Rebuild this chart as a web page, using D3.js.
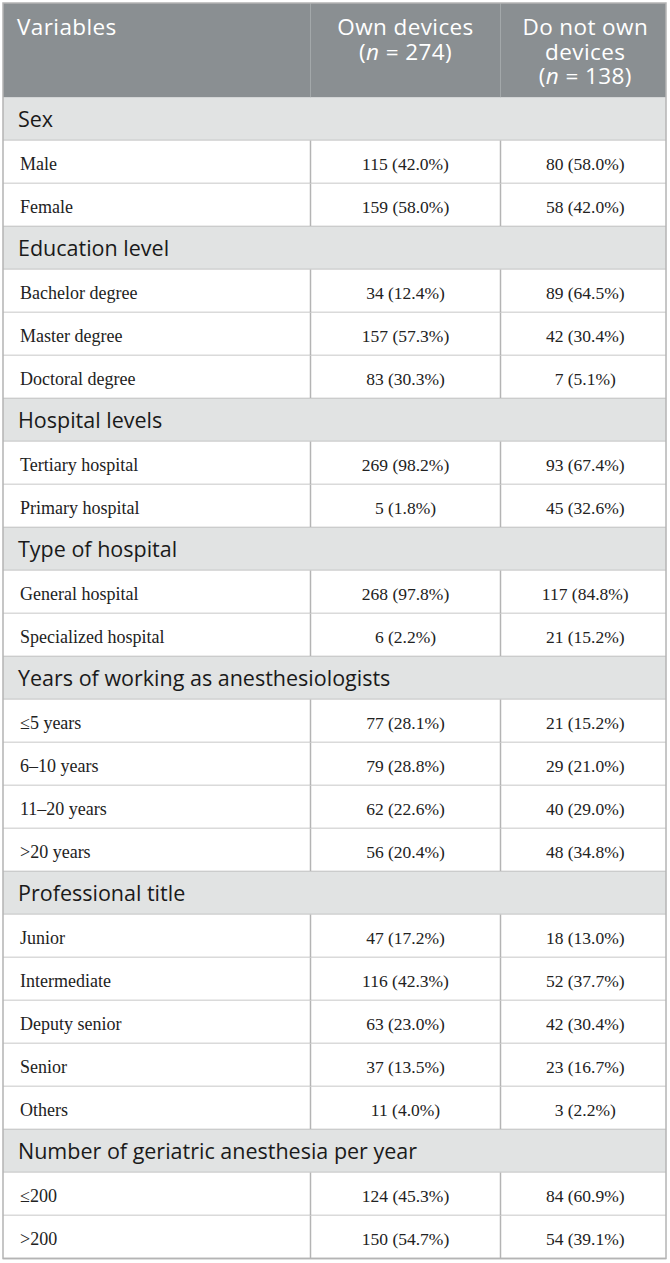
<!DOCTYPE html>
<html>
<head>
<meta charset="utf-8">
<script src="https://cdn.jsdelivr.net/npm/d3@7"></script>
<style>
  body { margin: 0; background: #fff; }
</style>
</head>
<body>
<script>
const WIDTH = 670;
const HEIGHT = 1263;

// table data
var GROUPS = ["Sex", "Education level", "Hospital levels", "Type of hospital",
  "Years of working as anesthesiologists", "Professional title",
  "Number of geriatric anesthesia per year"];

var LABELS = [
  ["Male", "Female"],
  ["Bachelor degree", "Master degree", "Doctoral degree"],
  ["Tertiary hospital", "Primary hospital"],
  ["General hospital", "Specialized hospital"],
  ["\u22645 years", "6\u201310 years", "11\u201320 years", ">20 years"],
  ["Junior", "Intermediate", "Deputy senior", "Senior", "Others"],
  ["\u2264200", ">200"]
];

var OWN = [[115, 159], [34, 157, 83], [269, 5], [268, 6], [77, 79, 62, 56], [47, 116, 63, 37, 11], [124, 150]];
var OWN_PCT = [["42.0", "58.0"], ["12.4", "57.3", "30.3"], ["98.2", "1.8"], ["97.8", "2.2"],
  ["28.1", "28.8", "22.6", "20.4"], ["17.2", "42.3", "23.0", "13.5", "4.0"], ["45.3", "54.7"]];

var NOT_OWN = [[80, 58], [89, 42, 7], [93, 45], [117, 21], [21, 29, 40, 48], [18, 52, 42, 23, 3], [84, 54]];
var NOT_OWN_PCT = [["58.0", "42.0"], ["64.5", "30.4", "5.1"], ["67.4", "32.6"], ["84.8", "15.2"],
  ["15.2", "21.0", "29.0", "34.8"], ["13.0", "37.7", "30.4", "16.7", "2.2"], ["60.9", "39.1"]];

var N_OWN = 274;
var N_NOT = 138;

// flatten into rows
var ROWS = [];
GROUPS.forEach(function (g, gi) {
  ROWS.push({ type: "group", label: g });
  LABELS[gi].forEach(function (l, li) {
    ROWS.push({
      type: "data", label: l,
      own: OWN[gi][li] + " (" + OWN_PCT[gi][li] + "%)",
      not: NOT_OWN[gi][li] + " (" + NOT_OWN_PCT[gi][li] + "%)"
    });
  });
});

var LEFT = 3, RIGHT = 666, COL1 = 310.5, COL2 = 500.5;
var HEAD_TOP = 3, HEAD_BOTTOM = 97.5, ROW_H = 43;

var yScale = d3.scaleBand()
  .domain(d3.range(ROWS.length))
  .range([HEAD_BOTTOM, HEAD_BOTTOM + ROWS.length * ROW_H]);

var xCenter = d3.scaleOrdinal()
  .domain(["own", "not"])
  .range([(COL1 + COL2) / 2, (COL2 + RIGHT) / 2 + 2]);

var svg = d3.select("body").append("svg")
  .attr("width", WIDTH)
  .attr("height", HEIGHT);

var SANS = "'Open Sans', 'Noto Sans', sans-serif";
var SERIF = "'Liberation Serif', 'DejaVu Serif', serif";

// header
svg.append("rect")
  .attr("x", LEFT).attr("y", HEAD_TOP)
  .attr("width", RIGHT - LEFT).attr("height", HEAD_BOTTOM - HEAD_TOP)
  .attr("fill", "#8a8f92");

[COL1, COL2].forEach(function (x) {
  svg.append("line")
    .attr("x1", x).attr("x2", x)
    .attr("y1", HEAD_TOP).attr("y2", HEAD_BOTTOM)
    .attr("stroke", "#a3a8aa").attr("stroke-width", 1);
});

var head = svg.append("g")
  .attr("font-family", SANS)
  .attr("font-size", "22.5px")
  .attr("letter-spacing", "0.4px")
  .attr("fill", "#fff");

head.append("text").attr("x", 17).attr("y", 35).text("Variables");

function nLine(sel, x, y, n) {
  var t = sel.append("text").attr("x", x).attr("y", y).attr("text-anchor", "middle");
  t.append("tspan").text("(");
  t.append("tspan").attr("font-style", "italic").text("n");
  t.append("tspan").text(" = " + n + ")");
}

head.append("text").attr("x", xCenter("own")).attr("y", 35)
  .attr("text-anchor", "middle").text("Own devices");
nLine(head, xCenter("own"), 59.5, N_OWN);

head.append("text").attr("x", xCenter("not")).attr("y", 35)
  .attr("text-anchor", "middle").text("Do not own");
head.append("text").attr("x", xCenter("not")).attr("y", 59.5)
  .attr("text-anchor", "middle").text("devices");
nLine(head, xCenter("not"), 84, N_NOT);

// rows
var rows = svg.selectAll("g.row")
  .data(ROWS)
  .enter()
  .append("g")
  .attr("class", "row")
  .attr("transform", (d, i) => "translate(0," + yScale(i) + ")");

rows.append("rect")
  .attr("x", LEFT)
  .attr("width", RIGHT - LEFT)
  .attr("height", ROW_H)
  .attr("fill", (d) => d.type === "group" ? "#e1e3e3" : "#fff");

rows.filter((d) => d.type === "data")
  .selectAll("line.col")
  .data([COL1, COL2])
  .enter()
  .append("line")
  .attr("x1", (d) => d).attr("x2", (d) => d)
  .attr("y1", 0).attr("y2", ROW_H)
  .attr("stroke", "#b4b4b4").attr("stroke-width", 1.5);

rows.append("line")
  .attr("x1", LEFT).attr("x2", RIGHT)
  .attr("y1", ROW_H).attr("y2", ROW_H)
  .attr("stroke", "#b4b4b4").attr("stroke-width", 1.5);

rows.filter((d) => d.type === "group")
  .append("text")
  .attr("x", 18)
  .attr("y", 29.5)
  .attr("font-family", SANS)
  .attr("font-size", "21.5px")
  .attr("fill", "#1a1a1a")
  .text((d) => d.label);

var dataRows = rows.filter((d) => d.type === "data");

dataRows.append("text")
  .attr("x", 20)
  .attr("y", 29)
  .attr("font-family", SERIF)
  .attr("font-size", "18px")
  .attr("fill", "#222")
  .text((d) => d.label);

["own", "not"].forEach(function (k) {
  dataRows.append("text")
    .attr("x", xCenter(k))
    .attr("y", 29)
    .attr("text-anchor", "middle")
    .attr("font-family", SERIF)
    .attr("font-size", "17.5px")
    .attr("fill", "#222")
    .text((d) => d[k]);
});

// outer border
svg.append("rect")
  .attr("x", LEFT).attr("y", HEAD_TOP)
  .attr("width", RIGHT - LEFT)
  .attr("height", HEAD_BOTTOM + ROWS.length * ROW_H - HEAD_TOP)
  .attr("fill", "none")
  .attr("stroke", "#b4b4b4").attr("stroke-width", 1.5);
</script>
</body>
</html>
